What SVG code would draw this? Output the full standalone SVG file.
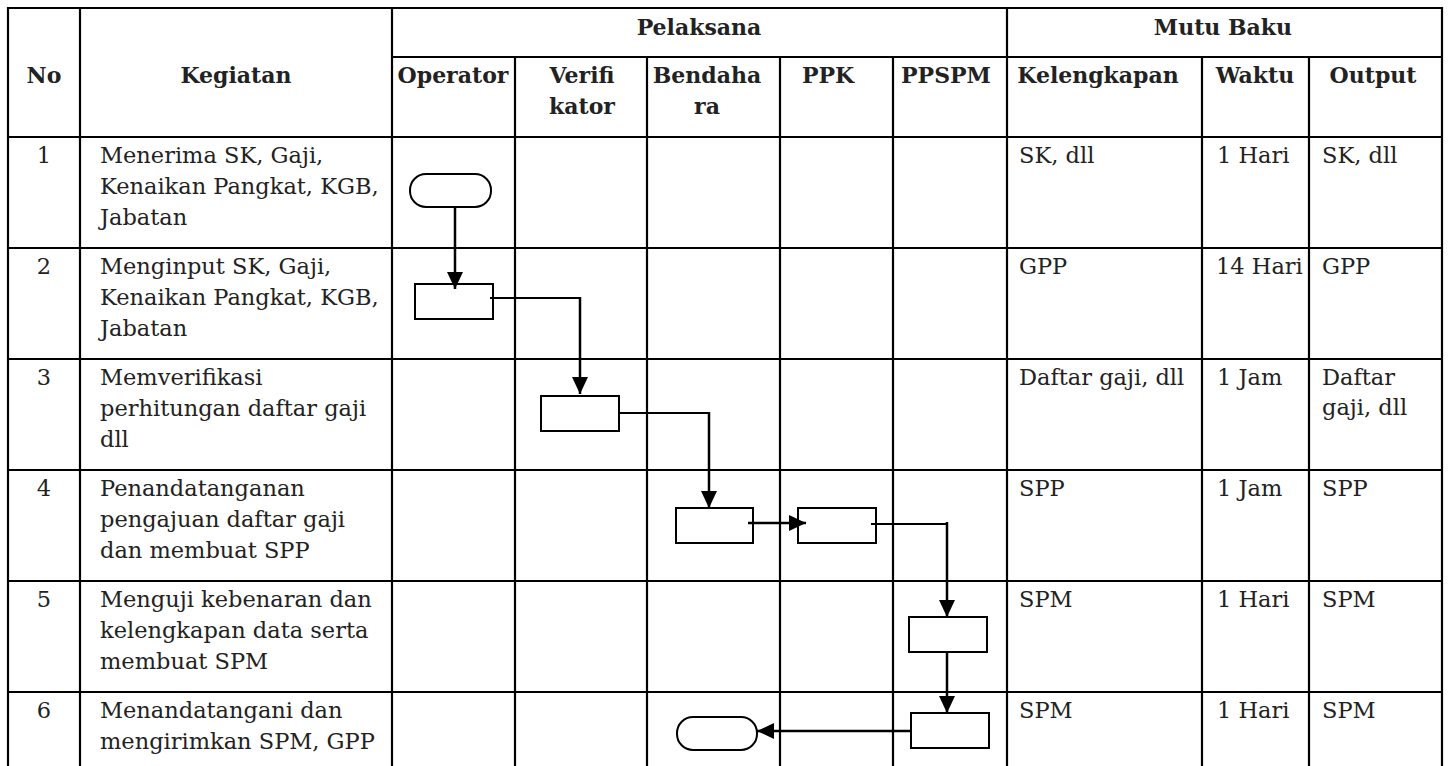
<svg xmlns="http://www.w3.org/2000/svg" width="1449" height="766" viewBox="0 0 1449 766">
<defs>
<marker id="ah" markerUnits="userSpaceOnUse" markerWidth="18" markerHeight="18" viewBox="0 0 18 18" refX="17" refY="9" orient="auto">
<path d="M0,1 L17,9 L0,17 Z" fill="#000"/>
</marker>
<style>
.grid{stroke:#000;stroke-width:2.2;fill:none}
.hd{font-family:"DejaVu Serif","Liberation Serif",serif;font-weight:bold;font-size:22px;fill:#222;text-anchor:middle}
.tx{font-family:"DejaVu Serif","Liberation Serif",serif;font-size:22.5px;fill:#222}
.num{text-anchor:middle}
.box{fill:#fff;stroke:#000;stroke-width:2}
.con{fill:none;stroke:#000;stroke-width:2.5}
.thin{stroke-width:1.8}
</style>
</defs>
<rect width="1449" height="766" fill="#fff"/>
<g id="grid">
<path class="grid" d="M7,8 H1443 M392,57 H1443 M7,137 H1443 M7,248 H1443 M7,359 H1443 M7,470 H1443 M7,581 H1443 M7,692 H1443"/>
<path class="grid" d="M8,7 V766 M80,8 V766 M392,8 V766 M1007,8 V766 M1442,7 V766 M515,57 V766 M647,57 V766 M780,57 V766 M893,57 V766 M1202,57 V766 M1309,57 V766"/>
</g>
<g id="headers">
<text class="hd" x="44" y="83">No</text>
<text class="hd" x="236" y="83">Kegiatan</text>
<text class="hd" x="699" y="35">Pelaksana</text>
<text class="hd" x="1223" y="35">Mutu Baku</text>
<text class="hd" x="453" y="83">Operator</text>
<text class="hd" x="582" y="83">Verifi</text>
<text class="hd" x="582" y="114">kator</text>
<text class="hd" x="707" y="83">Bendaha</text>
<text class="hd" x="707" y="114">ra</text>
<text class="hd" x="828" y="83">PPK</text>
<text class="hd" x="946" y="83">PPSPM</text>
<text class="hd" x="1098" y="83">Kelengkapan</text>
<text class="hd" x="1255" y="83">Waktu</text>
<text class="hd" x="1373" y="83">Output</text>
</g>
<g id="row1">
<text class="tx num" x="44" y="163">1</text>
<text class="tx" x="100" y="163">Menerima SK, Gaji,</text>
<text class="tx" x="100" y="194">Kenaikan Pangkat, KGB,</text>
<text class="tx" x="100" y="225">Jabatan</text>
<text class="tx" x="1019" y="163">SK, dll</text>
<text class="tx" x="1217" y="163">1 Hari</text>
<text class="tx" x="1322" y="163">SK, dll</text>
</g>
<g id="row2">
<text class="tx num" x="44" y="274">2</text>
<text class="tx" x="100" y="274">Menginput SK, Gaji,</text>
<text class="tx" x="100" y="305">Kenaikan Pangkat, KGB,</text>
<text class="tx" x="100" y="336">Jabatan</text>
<text class="tx" x="1019" y="274">GPP</text>
<text class="tx" x="1216" y="274">14 Hari</text>
<text class="tx" x="1322" y="274">GPP</text>
</g>
<g id="row3">
<text class="tx num" x="44" y="385">3</text>
<text class="tx" x="100" y="385">Memverifikasi</text>
<text class="tx" x="100" y="416">perhitungan daftar gaji</text>
<text class="tx" x="100" y="447">dll</text>
<text class="tx" x="1019" y="385">Daftar gaji, dll</text>
<text class="tx" x="1217" y="385">1 Jam</text>
<text class="tx" x="1322" y="385">Daftar</text>
<text class="tx" x="1322" y="415">gaji, dll</text>
</g>
<g id="row4">
<text class="tx num" x="44" y="496">4</text>
<text class="tx" x="100" y="496">Penandatanganan</text>
<text class="tx" x="100" y="527">pengajuan daftar gaji</text>
<text class="tx" x="100" y="558">dan membuat SPP</text>
<text class="tx" x="1019" y="496">SPP</text>
<text class="tx" x="1217" y="496">1 Jam</text>
<text class="tx" x="1322" y="496">SPP</text>
</g>
<g id="row5">
<text class="tx num" x="44" y="607">5</text>
<text class="tx" x="100" y="607">Menguji kebenaran dan</text>
<text class="tx" x="100" y="638">kelengkapan data serta</text>
<text class="tx" x="100" y="669">membuat SPM</text>
<text class="tx" x="1019" y="607">SPM</text>
<text class="tx" x="1217" y="607">1 Hari</text>
<text class="tx" x="1322" y="607">SPM</text>
</g>
<g id="row6">
<text class="tx num" x="44" y="718">6</text>
<text class="tx" x="100" y="718">Menandatangani dan</text>
<text class="tx" x="100" y="749">mengirimkan SPM, GPP</text>
<text class="tx" x="1019" y="718">SPM</text>
<text class="tx" x="1217" y="718">1 Hari</text>
<text class="tx" x="1322" y="718">SPM</text>
</g>
<g id="start"><rect class="box" x="410" y="174" width="81" height="33" rx="16"/></g>
<g id="input"><rect class="box" x="415" y="284" width="78" height="35"/></g>
<g id="verify"><rect class="box" x="541" y="396" width="78" height="35"/></g>
<g id="bendahara"><rect class="box" x="676" y="508" width="77" height="35"/></g>
<g id="ppk"><rect class="box" x="798" y="508" width="78" height="35"/></g>
<g id="ppspm1"><rect class="box" x="909" y="617" width="78" height="35"/></g>
<g id="ppspm2"><rect class="box" x="911" y="713" width="78" height="35"/></g>
<g id="end"><rect class="box" x="677" y="717" width="80" height="33" rx="16"/></g>
<g id="connectors">
<path class="con" d="M455,207 V289" marker-end="url(#ah)"/>
<path class="con thin" d="M490,298 H580"/>
<path class="con" d="M580,297 V394" marker-end="url(#ah)"/>
<path class="con thin" d="M619,413 H709"/>
<path class="con" d="M709,412 V508" marker-end="url(#ah)"/>
<path class="con" d="M748,523 H806" marker-end="url(#ah)"/>
<path class="con thin" d="M871,524 H947"/>
<path class="con" d="M947,522 V617" marker-end="url(#ah)"/>
<path class="con" d="M947,652 V713" marker-end="url(#ah)"/>
<path class="con" d="M911,731 H757" marker-end="url(#ah)"/>
</g>
</svg>
